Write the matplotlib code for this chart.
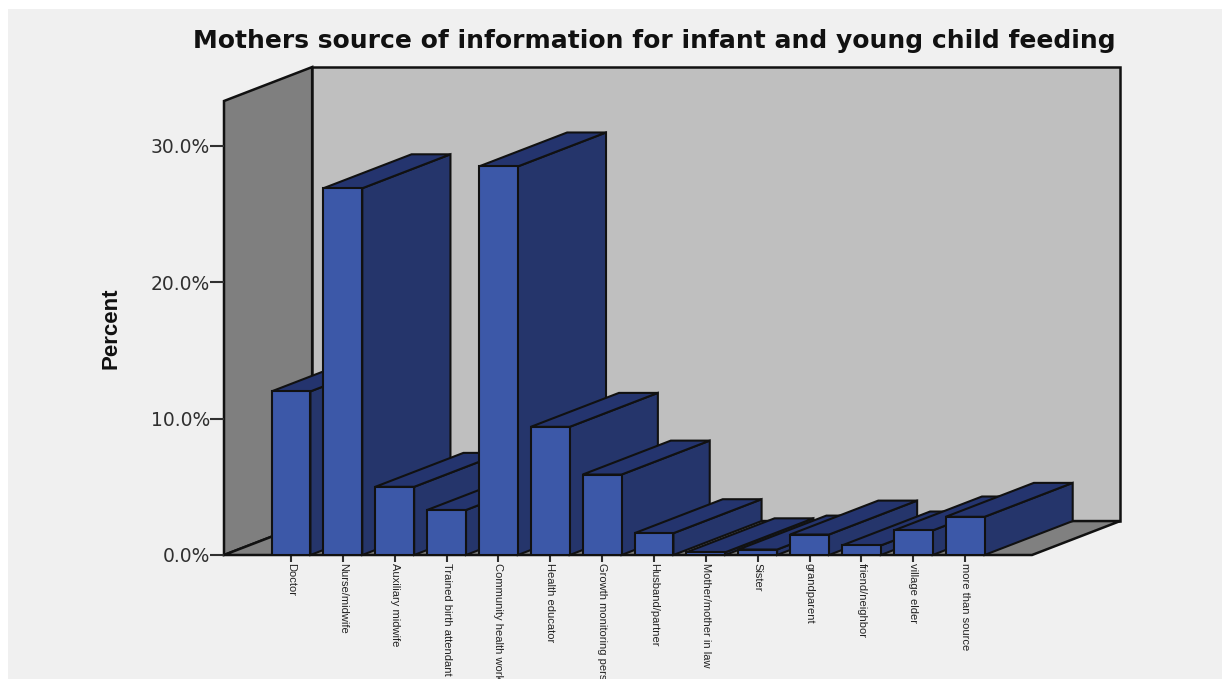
import matplotlib.pyplot as plt
from matplotlib.patches import Polygon, Rectangle

# Percent of mothers per information source
sources = ['Doctor', 'Nurse/midwife', 'Auxiliary midwife', 'Trained birth attendant',
           'Community health worker', 'Health educator', 'Growth monitoring person',
           'Husband/partner', 'Mother/mother in law', 'Sister', 'grandparent',
           'friend/neighbor', 'village elder', 'more than source']
percent = [12.0, 26.9, 5.0, 3.3, 28.5, 9.4, 5.9, 1.6, 0.2, 0.4, 1.5, 0.7, 1.8, 2.8]
y_ticks = [0, 10, 20, 30]

# Fake 3D: how far the back plane is shifted, in data units
DEPTH_X = 1.70
DEPTH_Y = 2.49
BAR_W = 0.75
X_MIN, X_MAX = -1.292, 14.29
Y_MAX = 33.3

EDGE = '#111111'
FRONT = '#3c58a8'
SIDE = '#25356b'
TOP = '#24346e'

W, H = 1222, 679
fig = plt.figure(figsize=(W / 100, H / 100), dpi=100, facecolor='white')
fig.add_artist(Rectangle((8 / W, 0), 1 - 8 / W, 1 - 9 / H, transform=fig.transFigure,
                         facecolor='#f0f0f0', edgecolor='none', zorder=-5))

ax = fig.add_axes([224 / W, 1 - 555 / H, (1032 - 224) / W, (555 - 101) / H])
ax.patch.set_visible(False)
ax.set_xlim(X_MIN, X_MAX)
ax.set_ylim(0, Y_MAX)
for s in ax.spines.values():
    s.set_visible(False)


def face(points, color, z, lw=1.5):
    ax.add_patch(Polygon(points, closed=True, facecolor=color, edgecolor=EDGE,
                         linewidth=lw, joinstyle='miter', zorder=z, clip_on=False))


# walls and floor
face([(X_MIN, 0), (X_MIN + DEPTH_X, DEPTH_Y), (X_MIN + DEPTH_X, Y_MAX + DEPTH_Y), (X_MIN, Y_MAX)],
     '#7f7f7f', 1, lw=1.8)
face([(X_MIN + DEPTH_X, DEPTH_Y), (X_MAX + DEPTH_X, DEPTH_Y),
      (X_MAX + DEPTH_X, Y_MAX + DEPTH_Y), (X_MIN + DEPTH_X, Y_MAX + DEPTH_Y)], '#bfbfbf', 1, lw=1.8)
face([(X_MIN, 0), (X_MAX, 0), (X_MAX + DEPTH_X, DEPTH_Y), (X_MIN + DEPTH_X, DEPTH_Y)], '#808080', 2, lw=1.8)

# each bar covers the one before it
for i, v in enumerate(percent):
    z = 3 + i
    l, r = i - BAR_W / 2, i + BAR_W / 2
    face([(r, 0), (r + DEPTH_X, DEPTH_Y), (r + DEPTH_X, v + DEPTH_Y), (r, v)], SIDE, z)
    face([(l, v), (r, v), (r + DEPTH_X, v + DEPTH_Y), (l + DEPTH_X, v + DEPTH_Y)], TOP, z)
    ax.bar(i, v, width=BAR_W, color=FRONT, edgecolor=EDGE, linewidth=1.5, zorder=z)

ax.set_yticks(y_ticks)
ax.set_yticklabels([f'{t:.1f}%' for t in y_ticks], fontsize=13.5, color='#303030',
                   family='DejaVu Sans')
ax.tick_params(axis='y', length=10, width=1.5, color='#303030', pad=0)

ax.set_xticks(range(len(sources)))
ax.set_xticklabels(sources, rotation=-90, fontsize=8, color='#222222', ha='center', va='top',
                   family=['Liberation Sans Narrow', 'Liberation Sans'])
ax.tick_params(axis='x', length=5, width=1.5, color='#303030', pad=1)

fig.text(654 / W, 1 - 41 / H, 'Mothers source of information for infant and young child feeding',
         ha='center', va='center', fontsize=18, fontweight='bold', color='#111111',
         family='DejaVu Sans')
fig.text(111 / W, 1 - 328 / H, 'Percent', rotation=90, ha='center', va='center', fontsize=16,
         fontweight='bold', color='#111111', family=['Liberation Sans Narrow', 'Liberation Sans'])

fig.savefig('out.png', dpi=100, facecolor=fig.get_facecolor())
